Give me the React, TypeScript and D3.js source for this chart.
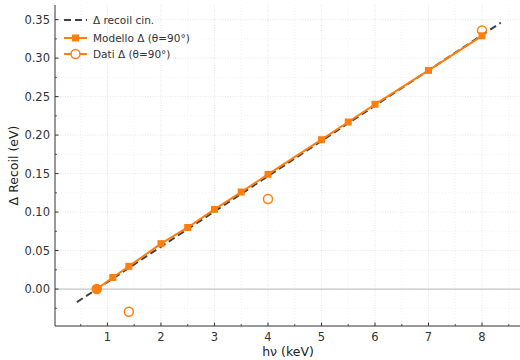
import React from "react";
import * as d3 from "d3";

const modelX = [0.8, 1.1, 1.4, 2.0, 2.5, 3.0, 3.5, 4.0, 5.0, 5.5, 6.0, 7.0, 8.0];
const modelY = [0.0, 0.015, 0.0295, 0.059, 0.080, 0.1035, 0.126, 0.149, 0.194, 0.217, 0.240, 0.284, 0.329];
const dataX = [0.8, 1.4, 4.0, 8.0];
const dataY = [0.0, -0.0295, 0.117, 0.336];
const kinX = [0.43, 8.35];
const kinY = [-0.017, 0.346];
const xTicks = [1, 2, 3, 4, 5, 6, 7, 8];
const yTicks = [0.0, 0.05, 0.1, 0.15, 0.2, 0.25, 0.3, 0.35];
const xMinor = [0.5, 1.5, 2.5, 3.5, 4.5, 5.5, 6.5, 7.5, 8.5];
const yMinor = [-0.025, 0.025, 0.075, 0.125, 0.175, 0.225, 0.275, 0.325];
const legendLabels = ["Δ recoil cin.", "Modello Δ (θ=90°)", "Dati Δ (θ=90°)"];

const W = 520, H = 360;
const L = 55, R = 520, T = 5, B = 326;
const ORANGE = "#ff7f0e";
const FONT = "DejaVu Sans, sans-serif";

export default function App() {
  const x = d3.scaleLinear().domain([0.02, 8.71]).range([L, R]);
  const y = d3.scaleLinear().domain([-0.048, 0.369]).range([B, T]);
  const modelPath = d3.line<number>().x((d, i) => x(modelX[i])).y((d) => y(d))(modelY) || "";
  const kinPath = d3.line<number>().x((d, i) => x(kinX[i])).y((d) => y(d))(kinY) || "";
  const sq = 7;
  const legY = [20, 38, 54];
  return (
    <svg width={W} height={H} style={{ position: "absolute", left: 0, top: 0 }} fontFamily={FONT}>
      <rect width={W} height={H} fill="#fff" />
      {xMinor.map((v) => (
        <line key={"xm" + v} x1={x(v)} x2={x(v)} y1={T} y2={B} stroke="#eeeeee" strokeWidth={0.8} strokeDasharray="1,2" />
      ))}
      {yMinor.map((v) => (
        <line key={"ym" + v} x1={L} x2={R} y1={y(v)} y2={y(v)} stroke="#eeeeee" strokeWidth={0.8} strokeDasharray="1,2" />
      ))}
      {xTicks.map((v) => (
        <line key={"xg" + v} x1={x(v)} x2={x(v)} y1={T} y2={B} stroke="#e2e2e2" strokeWidth={0.9} strokeDasharray="1,1.5" />
      ))}
      {yTicks.map((v) => (
        <line key={"yg" + v} x1={L} x2={R} y1={y(v)} y2={y(v)} stroke="#e2e2e2" strokeWidth={0.9} strokeDasharray="1,1.5" />
      ))}
      <line x1={L} x2={R} y1={y(0)} y2={y(0)} stroke="#c8c8c8" strokeWidth={1.2} />
      <path d={kinPath} fill="none" stroke="#404040" strokeWidth={2} strokeDasharray="7,4" />
      <path d={modelPath} fill="none" stroke={ORANGE} strokeWidth={2} />
      {modelY.map((v, i) => (
        <rect key={"m" + i} x={x(modelX[i]) - sq / 2} y={y(v) - sq / 2} width={sq} height={sq} fill={ORANGE} />
      ))}
      {dataY.map((v, i) => (
        <circle key={"d" + i} cx={x(dataX[i])} cy={y(v)} r={4.5} fill={i === 0 ? ORANGE : "none"} stroke={ORANGE} strokeWidth={1.5} />
      ))}
      <line x1={L} x2={L} y1={T} y2={B} stroke="#333" strokeWidth={1} />
      <line x1={L} x2={R} y1={B} y2={B} stroke="#333" strokeWidth={1} />
      {xTicks.map((v) => (
        <g key={"xt" + v}>
          <line x1={x(v)} x2={x(v)} y1={B} y2={B - 3.5} stroke="#333" />
          <text x={x(v)} y={341} fontSize={11.5} textAnchor="middle" fill="#333">{v}</text>
        </g>
      ))}
      {xMinor.map((v) => (
        <line key={"xmt" + v} x1={x(v)} x2={x(v)} y1={B} y2={B - 2} stroke="#333" strokeWidth={0.8} />
      ))}
      {yTicks.map((v) => (
        <g key={"yt" + v}>
          <line x1={L} x2={L + 3.5} y1={y(v)} y2={y(v)} stroke="#333" />
          <text x={50} y={y(v) + 4} fontSize={11.5} textAnchor="end" fill="#333">{v.toFixed(2)}</text>
        </g>
      ))}
      {yMinor.map((v) => (
        <line key={"ymt" + v} x1={L} x2={L + 2} y1={y(v)} y2={y(v)} stroke="#333" strokeWidth={0.8} />
      ))}
      <text x={288} y={356} fontSize={12.5} textAnchor="middle" fill="#222">hν (keV)</text>
      <text transform={`translate(18,${(T + B) / 2}) rotate(-90)`} fontSize={12.5} textAnchor="middle" fill="#222">Δ Recoil (eV)</text>
      <g>
        <line x1={64} x2={87} y1={legY[0]} y2={legY[0]} stroke="#404040" strokeWidth={2} strokeDasharray="7,4" />
        <line x1={64} x2={87} y1={legY[1]} y2={legY[1]} stroke={ORANGE} strokeWidth={2} />
        <rect x={75.5 - sq / 2} y={legY[1] - sq / 2} width={sq} height={sq} fill={ORANGE} />
        <line x1={64} x2={87} y1={legY[2]} y2={legY[2]} stroke={ORANGE} strokeWidth={2} />
        <circle cx={75.5} cy={legY[2]} r={4.5} fill="#fff" stroke={ORANGE} strokeWidth={1.5} />
        {legendLabels.map((t, i) => (
          <text key={t} x={93} y={legY[i] + 3.8} fontSize={10.5} fill="#333">{t}</text>
        ))}
      </g>
    </svg>
  );
}
